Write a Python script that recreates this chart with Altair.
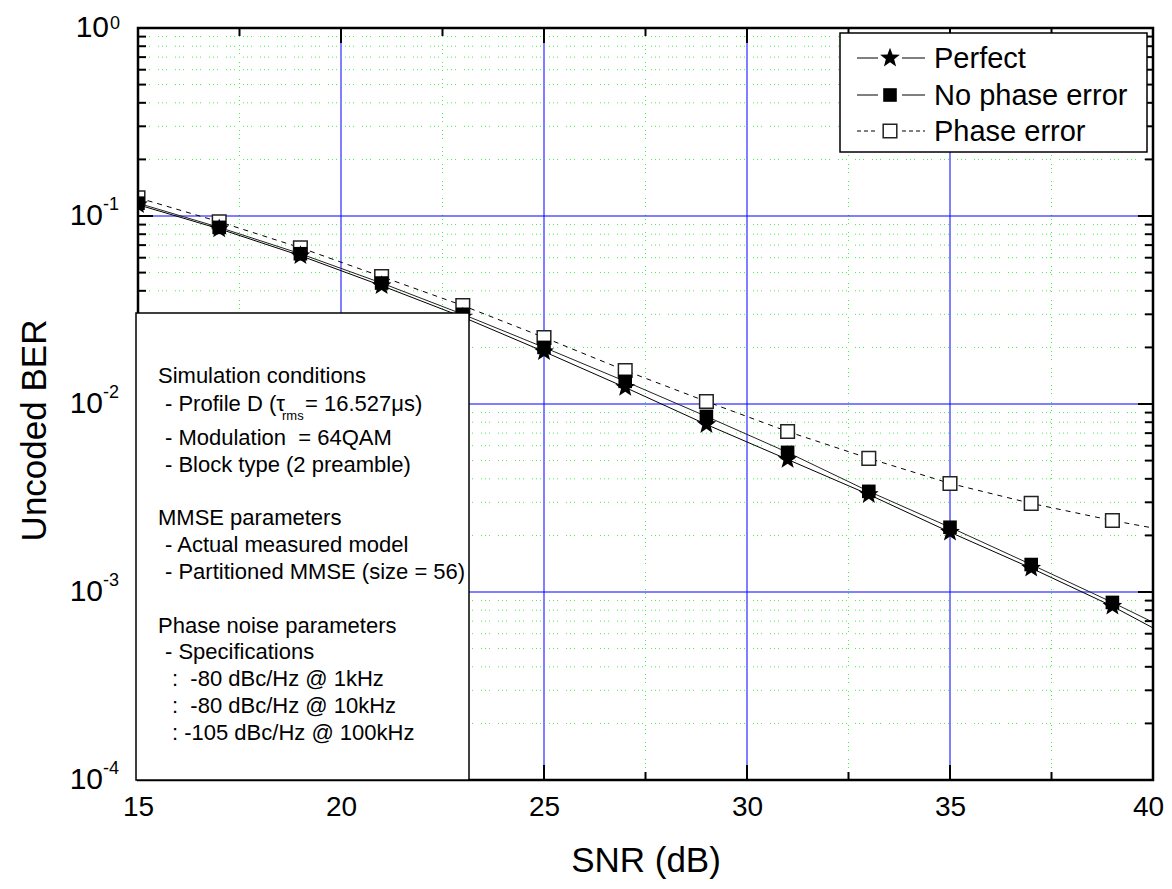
import math
import altair as alt
import pandas as pd

# ---------------- data ----------------
snr = [15, 17, 19, 21, 23, 25, 27, 29, 31, 33, 35, 37, 39]
ber_perfect = [0.1148, 0.0855, 0.0615, 0.0426, 0.0290, 0.0190, 0.01225, 0.00778,
               0.00507, 0.00330, 0.00208, 0.00134, 0.00084]
ber_no_phase = [0.1170, 0.0870, 0.0630, 0.0440, 0.0300, 0.0200, 0.0132, 0.00859,
                0.00553, 0.00343, 0.00221, 0.00140, 0.00088]
ber_phase = [0.1250, 0.0932, 0.0678, 0.0476, 0.0334, 0.0226, 0.01507, 0.01031,
             0.00714, 0.00514, 0.00378, 0.00296, 0.00240]
# fitted curves run to the right frame edge
line_end_snr = 40
line_end_perfect = 0.000644
line_end_no_phase = 0.00069
line_end_phase = 0.00219

series_names = ["Perfect", "No phase error", "Phase error"]

x_tick_values = [15, 20, 25, 30, 35, 40]
x_major_grid = [20, 25, 30, 35]
x_minor = [17.5, 22.5, 27.5, 32.5, 37.5]
y_tick_values = [1, 0.1, 0.01, 0.001, 0.0001]
y_tick_exponents = ["0", "-1", "-2", "-3", "-4"]
y_major_grid = [0.1, 0.01, 0.001]
y_minor = [0.9, 0.8, 0.7, 0.6, 0.5, 0.4, 0.3, 0.2,
           0.09, 0.08, 0.07, 0.06, 0.05, 0.04, 0.03, 0.02,
           0.009, 0.008, 0.007, 0.006, 0.005, 0.004, 0.003, 0.002,
           0.0009, 0.0008, 0.0007, 0.0006, 0.0005, 0.0004, 0.0003, 0.0002]

box_header_1 = "Simulation conditions"
box_profile_a = "- Profile D (τ"
box_profile_sub = "rms"
box_profile_b = "= 16.527μs)"
box_lines_1 = ["- Modulation \u00a0= 64QAM", "- Block type (2 preamble)"]
box_header_2 = "MMSE parameters"
box_lines_2 = ["- Actual measured model", "- Partitioned MMSE (size = 56)"]
box_header_3 = "Phase noise parameters"
box_lines_3 = ["- Specifications"]
box_specs = [":\u00a0 -80 dBc/Hz @ 1kHz", ":\u00a0 -80 dBc/Hz @ 10kHz", ": -105 dBc/Hz @ 100kHz"]

# ---------------- layout / style ----------------
W, H = 1015, 752
F = "Liberation Sans"
BLUE = "#0000ff"
GREEN = "#44ee44"
DOTS = [1, 3, 1, 3, 1, 8]
MAJ, MIN = 15, 8
STAR_SIZE = 430
SQ_SIZE = 185

xs = alt.Scale(domain=[15, 40], nice=False, zero=False)
ys = alt.Scale(type="log", domain=[1e-4, 1], nice=False)

xaxis = alt.Axis(title="SNR (dB)", values=x_tick_values, labels=True, ticks=False, tickSize=0,
                 domain=False, grid=False, labelFont=F, labelFontSize=28, labelColor="black",
                 labelPadding=13, labelFlush=False, labelOverlap=False, format="d",
                 labelOffset={"condition": {"test": "datum.value == 40", "value": -5}, "value": 0},
                 titleFont=F, titleFontSize=35, titleFontWeight="normal", titleColor="black",
                 titleY=80, titleBaseline="middle")
yaxis = alt.Axis(title="Uncoded BER", labels=False, ticks=False, domain=False, grid=False,
                 titleFont=F, titleFontSize=35, titleFontWeight="normal", titleColor="black",
                 titleX=-104, titleY=402, titleBaseline="middle", titleAlign="center", titleAngle=-90)

X = lambda f: alt.X(f, scale=xs, axis=xaxis)
Y = lambda f: alt.Y(f, scale=ys, axis=yaxis)

one = pd.DataFrame({"k": [0]})


def tdf(t):
    return pd.DataFrame({"t": [t]})


layers = []

# minor grid (green dotted)
layers.append(alt.Chart(pd.DataFrame({"snr": x_minor})).mark_rule(
    color=GREEN, strokeWidth=1, strokeDash=DOTS).encode(x=X("snr:Q")))
layers.append(alt.Chart(pd.DataFrame({"ber": y_minor})).mark_rule(
    color=GREEN, strokeWidth=1, strokeDash=DOTS).encode(y=Y("ber:Q")))
# major grid (blue)
layers.append(alt.Chart(pd.DataFrame({"snr": x_major_grid})).mark_rule(
    color=BLUE, strokeWidth=1).encode(x=X("snr:Q")))
layers.append(alt.Chart(pd.DataFrame({"ber": y_major_grid})).mark_rule(
    color=BLUE, strokeWidth=1).encode(y=Y("ber:Q")))

# curves
def line_df(vals, end):
    return pd.DataFrame({"snr": snr + [line_end_snr], "ber": vals + [end]})

layers.append(alt.Chart(line_df(ber_phase, line_end_phase)).mark_line(
    color="black", strokeWidth=1, strokeDash=[5, 5], clip=True).encode(x=X("snr:Q"), y=Y("ber:Q")))
layers.append(alt.Chart(line_df(ber_no_phase, line_end_no_phase)).mark_line(
    color="#222222", strokeWidth=1, clip=True).encode(x=X("snr:Q"), y=Y("ber:Q")))
layers.append(alt.Chart(line_df(ber_perfect, line_end_perfect)).mark_line(
    color="black", strokeWidth=1, clip=True).encode(x=X("snr:Q"), y=Y("ber:Q")))

# star path (unit radius)
pts = []
for i in range(10):
    a = math.radians(-90 + 36 * i)
    r = 1.0 if i % 2 == 0 else 0.42
    pts.append(f"{r * math.cos(a):.4f},{r * math.sin(a):.4f}")
STAR = "M" + " L".join(pts) + " Z"

def pts_df(vals):
    return pd.DataFrame({"snr": snr, "ber": vals})

layers.append(alt.Chart(pts_df(ber_phase)).mark_point(
    shape="square", size=SQ_SIZE, filled=True, fill="white", stroke="#222222", strokeWidth=1.5,
    opacity=1, clip=True).encode(x=X("snr:Q"), y=Y("ber:Q")))
layers.append(alt.Chart(pts_df(ber_perfect)).mark_point(
    shape=STAR, size=STAR_SIZE, filled=True, color="black", opacity=1, clip=True).encode(
    x=X("snr:Q"), y=Y("ber:Q")))
layers.append(alt.Chart(pts_df(ber_no_phase)).mark_point(
    shape="square", size=SQ_SIZE, filled=True, color="black", opacity=1, clip=True).encode(
    x=X("snr:Q"), y=Y("ber:Q")))

# inward ticks on all four sides
for vals, ln in ((x_tick_values, MAJ), (x_minor, MIN)):
    d = pd.DataFrame({"snr": vals})
    layers.append(alt.Chart(d).mark_rule(color="black", strokeWidth=2).encode(
        x=X("snr:Q"), y=alt.value(H), y2=alt.value(H - ln)))
    layers.append(alt.Chart(d).mark_rule(color="black", strokeWidth=2).encode(
        x=X("snr:Q"), y=alt.value(0), y2=alt.value(ln)))
for vals, ln in ((y_tick_values, MAJ), (y_minor, MIN)):
    d = pd.DataFrame({"ber": vals})
    layers.append(alt.Chart(d).mark_rule(color="black", strokeWidth=2).encode(
        y=Y("ber:Q"), x=alt.value(0), x2=alt.value(ln)))
    layers.append(alt.Chart(d).mark_rule(color="black", strokeWidth=2).encode(
        y=Y("ber:Q"), x=alt.value(W), x2=alt.value(W - ln)))

# frame
layers.append(alt.Chart(one).mark_rect(fill=None, filled=False, stroke="black", strokeWidth=2.5).encode(
    x=alt.value(0), x2=alt.value(W), y=alt.value(0), y2=alt.value(H)))

# y tick labels 10^n
ylab = pd.DataFrame({"ber": y_tick_values, "exp": y_tick_exponents})
ylab_zero = ylab[ylab["exp"] == "0"]
ylab_neg = ylab[ylab["exp"] != "0"]
for d, xb, xe, edy in ((ylab_zero, -29, -28, -4), (ylab_neg, -35, -35, -11)):
    layers.append(alt.Chart(d).mark_text(
        align="right", baseline="middle", font=F, fontSize=30, color="black").encode(
        y=Y("ber:Q"), x=alt.value(xb), text=alt.value("10")))
    layers.append(alt.Chart(d).mark_text(
        align="left", baseline="middle", font=F, fontSize=18, color="black", dy=edy).encode(
        y=Y("ber:Q"), x=alt.value(xe), text="exp:N"))

# legend
LX0, LX1, LY0, LY1 = 702, 1009, 5, 124
layers.append(alt.Chart(one).mark_rect(fill="white", stroke="black", strokeWidth=1.5).encode(
    x=alt.value(LX0), x2=alt.value(LX1), y=alt.value(LY0), y2=alt.value(LY1)))
rows_y = [30, 67, 103]
mk = 752
for i, name in enumerate(series_names):
    ry = rows_y[i]
    dash = [4, 3] if i == 2 else [1, 0]
    for a, b in ((719, 740), (764, 787)):
        layers.append(alt.Chart(one).mark_rule(color="black", strokeWidth=1, strokeDash=dash).encode(
            x=alt.value(a), x2=alt.value(b), y=alt.value(ry)))
    if i == 0:
        m = alt.Chart(one).mark_point(shape=STAR, size=STAR_SIZE, filled=True, color="black", opacity=1)
    elif i == 1:
        m = alt.Chart(one).mark_point(shape="square", size=SQ_SIZE, filled=True, color="black", opacity=1)
    else:
        m = alt.Chart(one).mark_point(shape="square", size=SQ_SIZE, filled=True, fill="white",
                                      stroke="#222222", strokeWidth=1.5, opacity=1)
    layers.append(m.encode(x=alt.value(mk), y=alt.value(ry)))
    layers.append(alt.Chart(tdf(name)).mark_text(
        align="left", baseline="middle", font=F, fontSize=29, color="black").encode(
        x=alt.value(796), y=alt.value(ry + 1), text="t:N"))

# annotation box
layers.append(alt.Chart(one).mark_rect(fill="white", stroke="black", strokeWidth=1.5).encode(
    x=alt.value(-2), x2=alt.value(331), y=alt.value(285), y2=alt.value(H)))

def box_text(t, x, y, size=22, dy=0):
    return alt.Chart(tdf(t)).mark_text(
        align="left", baseline="middle", font=F, fontSize=size, color="black", dy=dy).encode(
        x=alt.value(x), y=alt.value(y), text="t:N")

layers.append(box_text(box_header_1, 20, 348))
layers.append(box_text(box_profile_a, 27, 376))
layers.append(box_text(box_profile_sub, 144, 388, size=13))
layers.append(box_text(box_profile_b, 167, 376))
for j, t in enumerate(box_lines_1):
    layers.append(box_text(t, 27, 410 + 27 * j))
layers.append(box_text(box_header_2, 20, 490))
for j, t in enumerate(box_lines_2):
    layers.append(box_text(t, 27, 517 + 27 * j))
layers.append(box_text(box_header_3, 20, 598))
for j, t in enumerate(box_lines_3):
    layers.append(box_text(t, 27, 624 + 27 * j))
for j, t in enumerate(box_specs):
    layers.append(box_text(t, 34, 651 + 27 * j))

chart = alt.layer(*layers).properties(
    width=W, height=H,
    autosize=alt.AutoSizeParams(type="none"),
    padding={"left": 130, "top": 20, "right": 11, "bottom": 101},
).configure_view(stroke=None).configure(background="white")

chart.save("out.html", embed_options={"renderer": "svg", "actions": False})
